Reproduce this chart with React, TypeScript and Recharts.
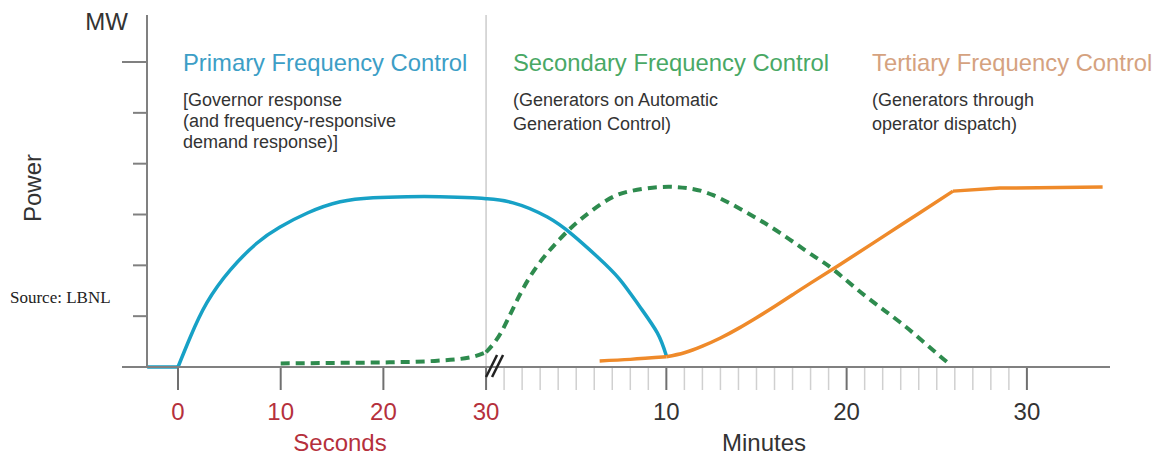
import React from 'react';
import { LineChart, Line, XAxis, YAxis, ReferenceLine } from 'recharts';

// x axis: seconds up to 30 s, then a break and minutes (each side has its own scale)
const SEC_PX = 10.27;
const MIN_PX = 18.03;
const toU = (unit: 's' | 'm', t: number) => (unit === 's' ? t : 30 + (t * MIN_PX) / SEC_PX);

const U_MIN = -3.02;
const U_MAX = 90.76;

// Primary frequency control (governor response)
const primaryFlatSec = [-3, 0];
const primaryFlatMW = [0, 0];
const primarySec = [0, 1.2, 2.8, 5.1, 7.7, 9.9, 12.6, 15.8, 19, 22.3, 25.5, 28.7, 30];
const primarySecMW = [0, 0.59, 1.26, 1.91, 2.44, 2.75, 3.03, 3.25, 3.33, 3.35, 3.35, 3.33, 3.31];
const primaryMin = [1.5, 3.4, 4.8, 6.2, 7.4, 8.5, 9.5, 10];
const primaryMinMW = [3.23, 2.95, 2.6, 2.16, 1.73, 1.2, 0.67, 0.22];

// Secondary frequency control (AGC)
const secondaryFlatSec = [10, 15, 20, 25, 28.7, 30];
const secondaryFlatMW = [0.07, 0.08, 0.09, 0.12, 0.2, 0.29];
const secondaryMin = [0, 0.8, 1.7, 2.8, 4.1, 5.2, 6.7, 8, 9.65, 11.15, 12.6, 14.5, 16.3, 18.1, 19.25, 21.1, 23, 24.8, 25.7];
const secondaryMinMW = [0.29, 0.66, 1.3, 1.97, 2.52, 2.89, 3.28, 3.46, 3.54, 3.52, 3.38, 3.03, 2.64, 2.2, 1.92, 1.38, 0.87, 0.33, 0.06];

// Tertiary frequency control (operator dispatch)
const tertiaryStartMin = [6.3, 8, 10];
const tertiaryStartMW = [0.12, 0.15, 0.2];
const tertiaryRiseMin = [10, 11, 12, 13, 14, 15, 16, 17, 18, 20, 22, 24, 25.9];
const tertiaryRiseMW = [0.2, 0.28, 0.41, 0.57, 0.76, 0.97, 1.19, 1.42, 1.65, 2.1, 2.56, 3.02, 3.46];
const tertiaryFlatMin = [25.9, 28.5, 34.2];
const tertiaryFlatMW = [3.46, 3.52, 3.54];

// ticks
const secondTicks = [0, 10, 20, 30];
const minuteMajor = [10, 20, 30];
const minuteTicks = Array.from({ length: 30 }, (_, i) => i + 1);
const yTicks = [0, 1, 2, 3, 4, 5, 6];

const rows = (sec: number[], secV: number[], min: number[], minV: number[]) => [
  ...sec.map((t, i) => ({ u: toU('s', t), mw: secV[i] })),
  ...min.map((t, i) => ({ u: toU('m', t), mw: minV[i] })),
];

const primaryFlat = rows(primaryFlatSec, primaryFlatMW, [], []);
const primary = rows(primarySec, primarySecMW, primaryMin, primaryMinMW);
const secondaryFlat = rows(secondaryFlatSec, secondaryFlatMW, [], []);
const secondary = rows([], [], secondaryMin, secondaryMinMW);
const tertiaryStart = rows([], [], tertiaryStartMin, tertiaryStartMW);
const tertiaryRise = rows([], [], tertiaryRiseMin, tertiaryRiseMW);
const tertiaryFlat = rows([], [], tertiaryFlatMin, tertiaryFlatMW);

type XT = { u: number; label: string; kind: 'sec' | 'min' | 'minor'; brk?: boolean };
const xTicks: XT[] = [
  ...secondTicks.map((s) => ({ u: toU('s', s), label: String(s), kind: 'sec' as const, brk: s === 30 })),
  ...minuteTicks.map((m) => {
    const major = minuteMajor.includes(m);
    return { u: toU('m', m), label: major ? String(m) : '', kind: major ? ('min' as const) : ('minor' as const) };
  }),
];

const FONT = "'Liberation Sans', Arial, sans-serif";
const AXIS = '#808080';
const RED = '#b5303c';
const BLUE = '#17a1c6';
const GREEN = '#2e8b4e';
const ORANGE = '#ef8a2a';

const XTick = ({ x, y, index }: any) => {
  const t = xTicks[index];
  if (!t) return null;
  const major = t.kind !== 'minor';
  return (
    <g>
      <line x1={x} x2={x} y1={y + 1} y2={y + 23} stroke={major ? '#707070' : '#d0d0d0'} strokeWidth={major ? 2 : 1.5} />
      {t.label && (
        <text x={x} y={y + 53} textAnchor="middle" fontSize={24} fontFamily={FONT} fill={t.kind === 'sec' ? RED : '#333'}>
          {t.label}
        </text>
      )}
      {t.brk && (
        <g stroke="#222" strokeWidth={2.5}>
          <line x1={x} y1={y + 10} x2={x + 11} y2={y - 12} />
          <line x1={x + 6} y1={y + 10} x2={x + 17} y2={y - 12} />
        </g>
      )}
    </g>
  );
};

const YTick = ({ x, y, payload }: any) => {
  const len = payload.value === 0 || payload.value === 6 ? 25 : 14;
  return <line x1={x - len} x2={x} y1={y} y2={y} stroke={AXIS} strokeWidth={2} />;
};

const Notes = () => (
  <svg width={1160} height={457} style={{ position: 'absolute', left: 0, top: 0, pointerEvents: 'none' }} fontFamily={FONT}>
    <text x={128} y={30} textAnchor="end" fontSize={24} fill="#333">MW</text>
    <text x={41} y={188} textAnchor="middle" fontSize={24} fill="#333" transform="rotate(-90 41 188)">Power</text>
    <text x={10} y={303} fontSize={17} fill="#222" fontFamily="'Liberation Serif', 'Times New Roman', serif">Source: LBNL</text>

    <text x={183} y={71} fontSize={23.8} fill="#3c9ec6">Primary Frequency Control</text>
    <g fontSize={18} fill="#333">
      <text x={183} y={106}>[Governor response</text>
      <text x={183} y={127}>(and frequency-responsive</text>
      <text x={183} y={148}>demand response)]</text>
    </g>

    <text x={513} y={71} fontSize={23.8} fill="#49a865">Secondary Frequency Control</text>
    <g fontSize={18} fill="#333">
      <text x={513} y={106}>(Generators on Automatic</text>
      <text x={513} y={130}>Generation Control)</text>
    </g>

    <text x={872} y={71} fontSize={23.8} fill="#d5a27f">Tertiary Frequency Control</text>
    <g fontSize={18} fill="#333">
      <text x={872} y={106}>(Generators through</text>
      <text x={872} y={130}>operator dispatch)</text>
    </g>

    <text x={340} y={451} textAnchor="middle" fontSize={24} fill={RED}>Seconds</text>
    <text x={764} y={451} textAnchor="middle" fontSize={24} fill="#333">Minutes</text>
  </svg>
);

export default function App() {
  return (
    <div style={{ position: 'absolute', left: 0, top: 0, width: 1160, height: 457, background: '#fff' }}>
      <LineChart width={1160} height={457} margin={{ top: 15, right: 50, bottom: 60, left: 117 }}>
        <XAxis
          type="number"
          dataKey="u"
          domain={[U_MIN, U_MAX]}
          ticks={xTicks.map((t) => t.u)}
          interval={0}
          height={30}
          tickSize={0}
          tickMargin={0}
          tickLine={false}
          tick={<XTick />}
          axisLine={{ stroke: AXIS, strokeWidth: 2 }}
        />
        <YAxis
          type="number"
          domain={[0, 6.925]}
          ticks={yTicks}
          interval={0}
          width={30}
          tickSize={0}
          tickMargin={0}
          tickLine={false}
          tick={<YTick />}
          axisLine={{ stroke: AXIS, strokeWidth: 2 }}
        />
        <ReferenceLine x={30} stroke="#cccccc" strokeWidth={1.5} />
        <Line data={primaryFlat} dataKey="mw" type="linear" stroke={BLUE} strokeWidth={3.5} dot={false} isAnimationActive={false} />
        <Line data={primary} dataKey="mw" type="natural" stroke={BLUE} strokeWidth={3.5} dot={false} isAnimationActive={false} />
        <Line data={secondaryFlat} dataKey="mw" type="monotone" stroke={GREEN} strokeWidth={4} strokeDasharray="9 6" dot={false} isAnimationActive={false} />
        <Line data={secondary} dataKey="mw" type="natural" stroke={GREEN} strokeWidth={4} strokeDasharray="9 6" dot={false} isAnimationActive={false} />
        <Line data={tertiaryStart} dataKey="mw" type="monotone" stroke={ORANGE} strokeWidth={3.5} dot={false} isAnimationActive={false} />
        <Line data={tertiaryRise} dataKey="mw" type="natural" stroke={ORANGE} strokeWidth={3.5} dot={false} isAnimationActive={false} />
        <Line data={tertiaryFlat} dataKey="mw" type="linear" stroke={ORANGE} strokeWidth={3.5} dot={false} isAnimationActive={false} />
      </LineChart>
      <Notes />
    </div>
  );
}
